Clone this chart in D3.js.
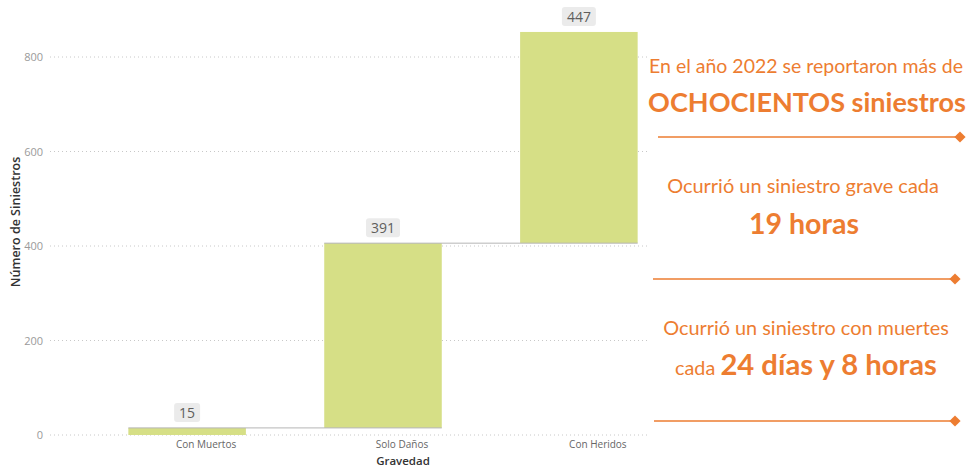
<!DOCTYPE html>
<html>
<head>
<meta charset="utf-8">
<script src="https://cdn.jsdelivr.net/npm/d3@7"></script>
<style>
  html, body { margin: 0; padding: 0; background: #fff; }
  svg { display: block; }
</style>
</head>
<body>
<svg id="chart" width="972" height="469"></svg>
<script>
// ---- data ----
const categories = ["Con Muertos", "Solo Daños", "Con Heridos"];
const values = [15, 391, 447];
const yTicks = [0, 200, 400, 600, 800];
const yTitle = "Número de Siniestros";
const xTitle = "Gravedad";
const panelTitle1 = "En el año 2022 se reportaron más de";
const panelBold1 = "OCHOCIENTOS siniestros";
const panelTitle2 = "Ocurrió un siniestro grave cada";
const panelBold2 = "19 horas";
const panelTitle3 = "Ocurrió un siniestro con muertes";
const panelPrefix3 = "cada ";
const panelBold3 = "24 días y 8 horas";

// ---- build waterfall ----
let run = 0;
const steps = categories.map((c, i) => {
  const start = run; run += values[i];
  return { cat: c, value: values[i], start, end: run };
});

const svg = d3.select("#chart");
const FONT = "'Open Sans', 'Noto Sans', sans-serif";
const ORANGE = "#ED7D31";

const x = d3.scaleBand().domain(categories).range([50, 716]).padding(0.4);
const y = d3.scaleLinear().domain([0, 800]).range([435, 57]);

// gridlines + y tick labels
const gy = svg.append("g");
gy.selectAll("line").data(yTicks).join("line")
  .attr("x1", 50).attr("x2", 716)
  .attr("y1", d => y(d)).attr("y2", d => y(d))
  .attr("stroke", "#c8c8c8").attr("stroke-width", 1)
  .attr("stroke-dasharray", "1,3");
gy.selectAll("text").data(yTicks).join("text")
  .attr("x", 43).attr("y", d => y(d) + 4)
  .attr("text-anchor", "end")
  .attr("font-family", FONT).attr("font-size", 11)
  .attr("fill", "#9a9a9a")
  .text(d => d);

// bars
svg.append("g").selectAll("rect").data(steps).join("rect")
  .attr("x", d => x(d.cat))
  .attr("width", x.bandwidth())
  .attr("y", d => y(d.end))
  .attr("height", d => y(d.start) - y(d.end))
  .attr("fill", "#D6DF86");

// connectors
svg.append("g").selectAll("line").data(steps.slice(0, -1)).join("line")
  .attr("x1", d => x(d.cat))
  .attr("x2", (d, i) => x(categories[i + 1]) + x.bandwidth())
  .attr("y1", d => y(d.end)).attr("y2", d => y(d.end))
  .attr("stroke", "#b5b5b5").attr("stroke-width", 1);

// data labels
const lbl = svg.append("g").selectAll("g").data(steps).join("g")
  .attr("transform", d => `translate(${x(d.cat) + x.bandwidth() / 2},${y(d.end) - 6})`);
lbl.append("text")
  .attr("text-anchor", "middle")
  .attr("y", -4)
  .attr("font-family", FONT).attr("font-size", 14)
  .attr("fill", "#605E5C")
  .text(d => d.value);
lbl.each(function () {
  const g = d3.select(this);
  const bb = g.select("text").node().getBBox();
  g.insert("rect", "text")
    .attr("x", bb.x - 5).attr("width", bb.width + 10)
    .attr("y", -19).attr("height", 19)
    .attr("rx", 3)
    .attr("fill", "#EBEBEB");
});

// x axis labels (offset as in reference)
svg.append("g").selectAll("text").data(categories).join("text")
  .attr("x", d => x(d) + x.bandwidth() / 2 + 19)
  .attr("y", 448)
  .attr("text-anchor", "middle")
  .attr("font-family", FONT).attr("font-size", 10)
  .attr("fill", "#666")
  .text(d => d);

// axis titles
svg.append("text")
  .attr("x", 403).attr("y", 465)
  .attr("text-anchor", "middle")
  .attr("font-family", FONT).attr("font-size", 11.5).attr("font-weight", 600)
  .attr("fill", "#333")
  .text(xTitle);
svg.append("text")
  .attr("transform", "translate(20,222) rotate(-90)")
  .attr("text-anchor", "middle")
  .attr("font-family", FONT).attr("font-size", 12.5).attr("font-weight", 600)
  .attr("fill", "#333")
  .text(yTitle);

// ---- right panel ----
svg.append("rect").attr("x", 649).attr("y", 0).attr("width", 323).attr("height", 469).attr("fill", "#fff");
const PF = "Lato, 'Open Sans', sans-serif";
// fit font size so the natural width matches the reference width
function fitSize(el, size, targetW) {
  const w = el.node().getComputedTextLength();
  el.attr("font-size", Math.min(size, size * targetW / w));
}
function line(t, cx, yy, size, weight, targetW) {
  const el = svg.append("text")
    .attr("x", cx).attr("y", yy)
    .attr("text-anchor", "middle")
    .attr("font-family", PF).attr("font-size", size).attr("font-weight", weight)
    .attr("fill", ORANGE).text(t);
  fitSize(el, size, targetW);
  return el;
}
line(panelTitle1, 806, 73, 22, 400, 314);
line(panelBold1, 807, 112, 31, 700, 318);
line(panelTitle2, 803, 193, 21, 400, 272);
line(panelBold2, 804, 234, 31, 700, 110);
line(panelTitle3, 806, 335, 21, 400, 286);
const t3 = svg.append("text")
  .attr("x", 806).attr("y", 375)
  .attr("text-anchor", "middle")
  .attr("font-family", PF).attr("fill", ORANGE);
const s3a = t3.append("tspan").attr("font-size", 21).attr("font-weight", 400).text(panelPrefix3);
const s3b = t3.append("tspan").attr("font-size", 31).attr("font-weight", 700).text(panelBold3);
{
  const w = t3.node().getComputedTextLength();
  const k = Math.min(1, 262 / w);
  s3a.attr("font-size", 21 * k);
  s3b.attr("font-size", 31 * k);
}

// separators with diamonds
const seps = [{ y: 137, x1: 658, x2: 960 }, { y: 279, x1: 653, x2: 955 }, { y: 421, x1: 654, x2: 955 }];
seps.forEach(s => {
  svg.append("line").attr("x1", s.x1).attr("x2", s.x2).attr("y1", s.y).attr("y2", s.y)
    .attr("stroke", ORANGE).attr("stroke-width", 1.3);
  svg.append("path")
    .attr("d", d3.symbol(d3.symbolDiamond2, 80)())
    .attr("transform", `translate(${s.x2},${s.y})`)
    .attr("fill", ORANGE);
});
</script>
</body>
</html>
